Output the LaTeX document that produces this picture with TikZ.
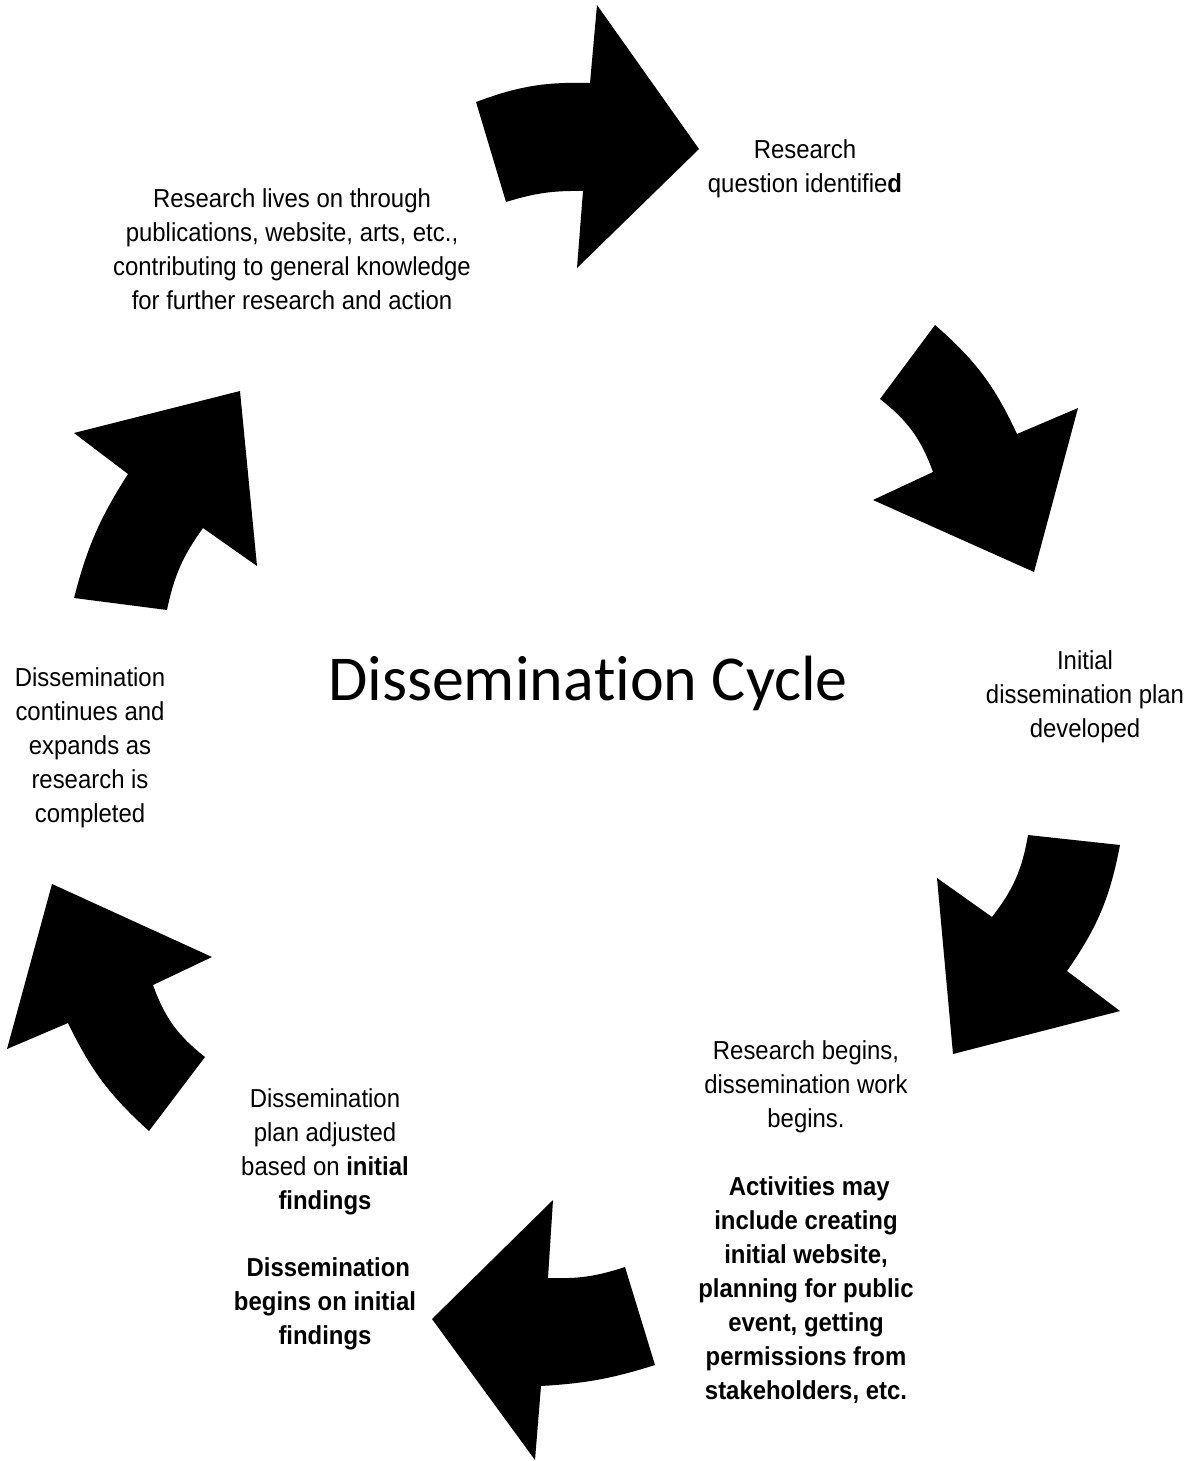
\documentclass[tikz,border=0pt]{standalone}
\usepackage{fontspec}
\setmainfont{Liberation Sans}[FakeStretch=0.92]
\newfontfamily\titlefont{Carlito}[Ligatures={CommonOff,ContextualOff}]
\usetikzlibrary{positioning}

\begin{document}
\begin{tikzpicture}[
    x=0.5pt, y=-0.5pt,
    cycarrow/.style={fill=black},
    stagetext/.style={align=center, inner sep=0pt, font=\fontsize{13}{17}\selectfont},
    cycletitle/.style={inner sep=0pt, font=\titlefont\fontsize{32}{38}\selectfont},
]
    \useasboundingbox (0,0) rectangle (1197,1461);

    % Curved block arrows, clockwise from the top
    \fill[cycarrow] (476,102) to[bend left=11] (590,83) -- (597,5) -- (699,149) -- (577,268) -- (583,191) to[bend right=9] (506,202) -- cycle;
    \fill[cycarrow] (935,325) to[bend left=12] (1017,434) -- (1078,408) -- (1034,572) -- (873,500) -- (933,472) to[bend right=16] (880,399) -- cycle;
    \fill[cycarrow] (1120,845) to[bend left=12] (1067,971) -- (1120,1011) -- (953,1054) -- (937,878) -- (992,917) to[bend right=14] (1028,835) -- cycle;
    \fill[cycarrow] (655,1365) to[bend left=7] (541,1386) -- (535,1460) -- (432,1319) -- (553,1200) -- (548,1278) to[bend right=10] (625,1267) -- cycle;
    \fill[cycarrow] (149,1131) to[bend left=11] (68,1023) -- (7,1049) -- (52,884) -- (212,957) -- (153,985) to[bend right=16] (205,1057) -- cycle;
    \fill[cycarrow] (74,598) to[bend left=9] (128,474) -- (74,433) -- (240,391) -- (257,566) -- (203,528) to[bend right=12] (167,610) -- cycle;

    % Stages
    \node[stagetext] (question) at (805,169) {Research\\question identifie\textbf{d}};
    \node[stagetext] (plan) at (1085,697) {Initial\\dissemination plan\\developed};
    \node[stagetext] (begins) at (806,1087) {Research begins,\\dissemination work\\begins.};
    \node[stagetext, below=21.5pt of begins] (activities) {\textbf{\ Activities may}\\\textbf{include creating}\\\textbf{initial website,}\\\textbf{planning for public}\\\textbf{event, getting}\\\textbf{permissions from}\\\textbf{stakeholders, etc.}};
    \node[stagetext] (adjusted) at (325,1152) {Dissemination\\plan adjusted\\based on \textbf{initial}\\\textbf{findings}};
    \node[stagetext, below=21pt of adjusted] (firstfindings) {\textbf{\ Dissemination}\\\textbf{begins on initial}\\\textbf{findings}};
    \node[stagetext] (expands) at (90,748) {Dissemination\\continues and\\expands as\\research is\\completed};
    \node[stagetext] (liveson) at (292,249) {Research lives on through\\publications, website, arts, etc.,\\contributing to general knowledge\\for further research and action};

    % Title
    \node[cycletitle] (cycle) at (588,683) {Dissemina\kern0pt tion Cycle};

\end{tikzpicture}
\end{document}
